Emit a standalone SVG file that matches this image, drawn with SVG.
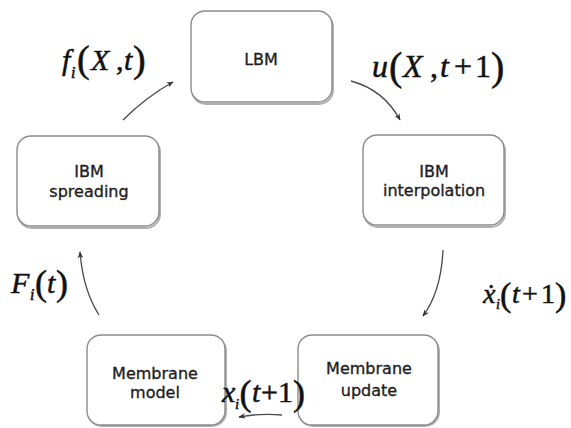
<svg xmlns="http://www.w3.org/2000/svg" width="571" height="428" viewBox="0 0 571 428">
  <style>
    .box { fill: #ffffff; stroke: #8c8c8c; stroke-width: 1.4; }
    .shadow { fill: none; stroke: #b0b0b0; stroke-width: 2; }
    .lbl { font-family: "DejaVu Sans", Verdana, sans-serif; font-size: 16px; fill: #1e1e1e; stroke: #1e1e1e; stroke-width: 0.35; text-anchor: middle; }
    .math { font-family: "Liberation Serif", "Times New Roman", serif; fill: #111111; stroke: #111111; stroke-width: 0.5; }
    .it { font-style: italic; }
    .edge { fill: none; stroke: #4a4a4a; stroke-width: 1.3; }
  </style>
  <defs>
    <marker id="arrow" viewBox="0 0 10 10" refX="9" refY="5" markerWidth="7" markerHeight="7" orient="auto" markerUnits="userSpaceOnUse">
      <path d="M0,1 L10,5 L0,9 L3,5 Z" fill="#333333"/>
    </marker>
  </defs>

  <rect width="571" height="428" fill="#ffffff"/>

  <!-- connectors -->
  <g id="connectors">
    <path class="edge" d="M123,120 Q146,97 173,82" marker-end="url(#arrow)"/>
    <path class="edge" d="M351,81 Q384,90 400,120" marker-end="url(#arrow)"/>
    <path class="edge" d="M443,250 Q441,292 423,316" marker-end="url(#arrow)"/>
    <path class="edge" d="M282,415 Q260,413 239,417" marker-end="url(#arrow)"/>
    <path class="edge" d="M99,315 Q83,290 80,252" marker-end="url(#arrow)"/>
  </g>

  <!-- nodes -->
  <g id="lbm">
    <rect class="shadow" x="192" y="13" width="141" height="91" rx="14"/>
    <rect class="box" x="191" y="11" width="141" height="91" rx="14"/>
    <text class="lbl" x="261" y="65">LBM</text>
  </g>

  <g id="ibm-interpolation">
    <rect class="shadow" x="364" y="137" width="141" height="90" rx="14"/>
    <rect class="box" x="363" y="135" width="141" height="90" rx="14"/>
    <text class="lbl" x="434" y="177">IBM</text>
    <text class="lbl" x="434" y="196">interpolation</text>
  </g>

  <g id="membrane-update">
    <rect class="shadow" x="299" y="337" width="140" height="89" rx="14"/>
    <rect class="box" x="298" y="335" width="140" height="90" rx="14"/>
    <text class="lbl" x="369" y="374">Membrane</text>
    <text class="lbl" x="369" y="396">update</text>
  </g>

  <g id="membrane-model">
    <rect class="shadow" x="88" y="337" width="138" height="89" rx="14"/>
    <rect class="box" x="87" y="335" width="138" height="90" rx="14"/>
    <text class="lbl" x="155" y="379">Membrane</text>
    <text class="lbl" x="155" y="398">model</text>
  </g>

  <g id="ibm-spreading">
    <rect class="shadow" x="18" y="138" width="142" height="90" rx="14"/>
    <rect class="box" x="17" y="136" width="142" height="90" rx="14"/>
    <text class="lbl" x="89" y="177">IBM</text>
    <text class="lbl" x="89" y="197">spreading</text>
  </g>

  <!-- edge labels -->
  <g id="label-f">
    <text class="math" font-size="30"><tspan class="it" x="62" y="70">f</tspan><tspan class="it" x="71" y="78" font-size="16">i</tspan><tspan x="77" y="72" font-size="38">(</tspan><tspan class="it" x="91" y="70">X</tspan><tspan x="116" y="70">,</tspan><tspan class="it" x="124" y="70">t</tspan><tspan x="133" y="72" font-size="38">)</tspan></text>
  </g>

  <g id="label-u">
    <text class="math" font-size="32"><tspan class="it" x="372" y="77">u</tspan><tspan x="389" y="80" font-size="40">(</tspan><tspan class="it" x="403" y="77">X</tspan><tspan x="430" y="77">,</tspan><tspan class="it" x="440" y="77">t</tspan><tspan x="454" y="77">+</tspan><tspan x="475" y="77">1</tspan><tspan x="491" y="80" font-size="40">)</tspan></text>
  </g>

  <g id="label-xdot">
    <text class="math" font-size="28"><tspan class="it" x="483" y="303">ẋ</tspan><tspan class="it" x="496" y="309" font-size="14">i</tspan><tspan x="500" y="306" font-size="34">(</tspan><tspan class="it" x="512" y="303">t</tspan><tspan x="522" y="303">+</tspan><tspan x="541" y="303">1</tspan><tspan x="555" y="306" font-size="34">)</tspan></text>
  </g>

  <g id="label-x">
    <text class="math" font-size="30"><tspan class="it" x="222" y="402">x</tspan><tspan class="it" x="235" y="409" font-size="15">i</tspan><tspan x="239.5" y="405" font-size="36">(</tspan><tspan class="it" x="252" y="402">t</tspan><tspan x="261" y="402">+</tspan><tspan x="278" y="402">1</tspan><tspan x="293" y="405" font-size="36">)</tspan></text>
  </g>

  <g id="label-F">
    <text class="math" font-size="30"><tspan class="it" x="11" y="293">F</tspan><tspan class="it" x="30" y="300" font-size="16">i</tspan><tspan x="35" y="295" font-size="36">(</tspan><tspan class="it" x="47" y="293">t</tspan><tspan x="56" y="295" font-size="36">)</tspan></text>
  </g>
</svg>
